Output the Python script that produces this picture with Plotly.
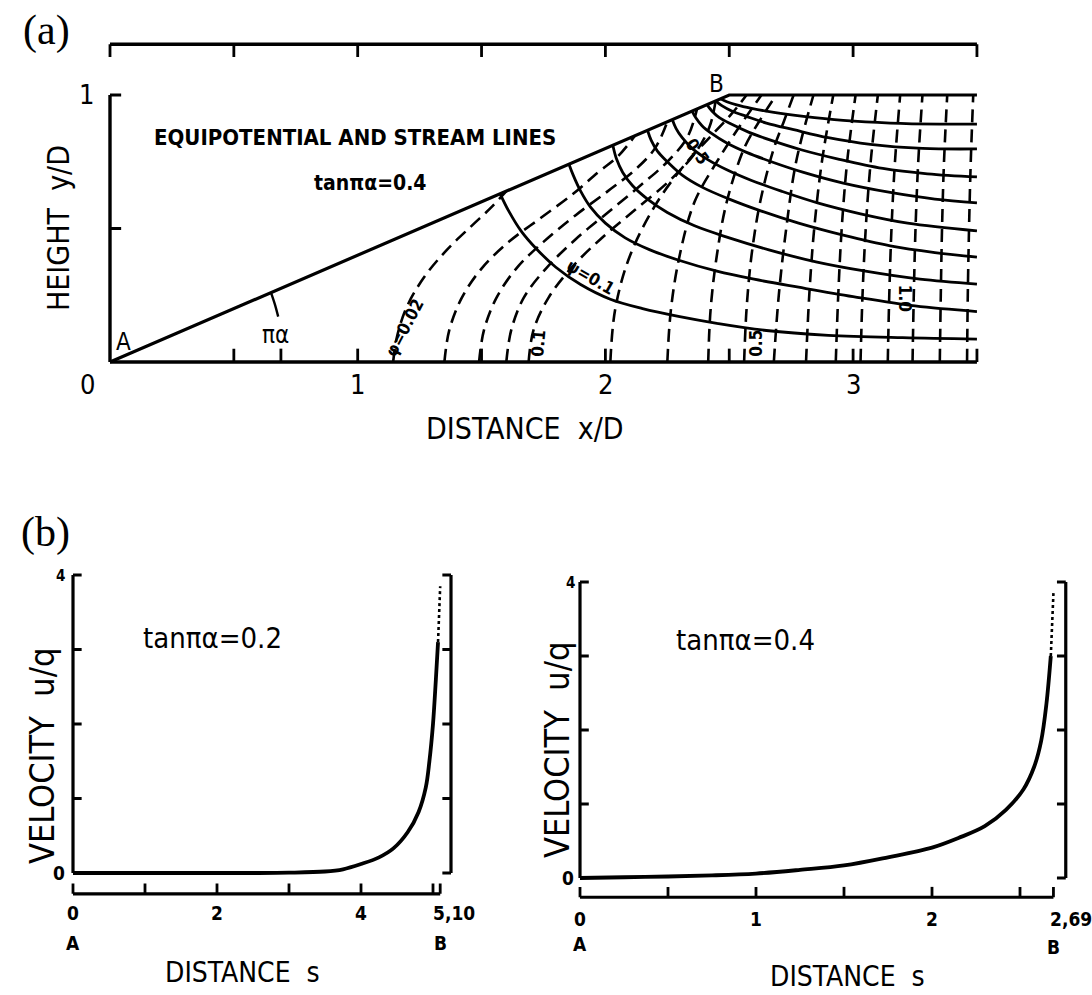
import plotly.graph_objects as go

W, H = 1092, 995
FONT = '"DejaVu Sans Condensed", "Liberation Sans Narrow", "Roboto Condensed", "DejaVu Sans", sans-serif'
SERIF = '"Liberation Serif", "DejaVu Serif", serif'

# ---------------- Panel (a): boundary, stream lines, equipotential lines ----------------
wall_x = [0.0, 2.5, 3.5]
wall_y = [0.0, 1.0, 1.0]

# angle marker (pi*alpha) near A
arc_x = [0.65, 0.666, 0.679]
arc_y = [0.26, 0.215, 0.17]
arc_tick_x = 0.69

psi_levels = [0.1, 0.2, 0.3, 0.4, 0.5, 0.6, 0.7, 0.8, 0.9]
psi_x = [
    [1.575, 1.61, 1.66, 1.72, 1.80, 1.90, 2.02, 2.15, 2.30, 2.45, 2.65, 2.90, 3.20, 3.50],
    [1.853, 1.87, 1.90, 1.94, 2.00, 2.08, 2.18, 2.30, 2.45, 2.60, 2.78, 3.00, 3.25, 3.50],
    [2.03, 2.045, 2.07, 2.11, 2.17, 2.25, 2.36, 2.50, 2.66, 2.85, 3.05, 3.27, 3.50],
    [2.17, 2.185, 2.21, 2.25, 2.31, 2.39, 2.50, 2.63, 2.78, 2.96, 3.15, 3.33, 3.50],
    [2.27, 2.285, 2.31, 2.35, 2.41, 2.49, 2.59, 2.71, 2.86, 3.03, 3.22, 3.50],
    [2.35, 2.365, 2.39, 2.43, 2.49, 2.57, 2.67, 2.80, 2.96, 3.15, 3.33, 3.50],
    [2.41, 2.43, 2.46, 2.51, 2.58, 2.67, 2.79, 2.94, 3.12, 3.30, 3.50],
    [2.445, 2.47, 2.51, 2.57, 2.65, 2.76, 2.90, 3.07, 3.28, 3.50],
    [2.465, 2.49, 2.53, 2.59, 2.68, 2.80, 2.96, 3.15, 3.35, 3.50],
]
psi_y = [
    [0.630, 0.565, 0.49, 0.425, 0.355, 0.29, 0.235, 0.20, 0.17, 0.145, 0.118, 0.100, 0.091, 0.086],
    [0.741, 0.70, 0.64, 0.58, 0.52, 0.465, 0.42, 0.38, 0.34, 0.31, 0.28, 0.245, 0.21, 0.189],
    [0.812, 0.76, 0.71, 0.66, 0.61, 0.56, 0.51, 0.465, 0.42, 0.375, 0.34, 0.31, 0.292],
    [0.868, 0.83, 0.79, 0.75, 0.70, 0.655, 0.61, 0.565, 0.52, 0.475, 0.435, 0.41, 0.393],
    [0.908, 0.875, 0.84, 0.80, 0.76, 0.72, 0.68, 0.64, 0.595, 0.555, 0.52, 0.491],
    [0.94, 0.915, 0.885, 0.855, 0.82, 0.785, 0.75, 0.71, 0.67, 0.635, 0.61, 0.596],
    [0.964, 0.94, 0.915, 0.89, 0.86, 0.83, 0.795, 0.76, 0.725, 0.705, 0.693],
    [0.978, 0.96, 0.94, 0.92, 0.895, 0.87, 0.84, 0.815, 0.80, 0.798],
    [0.986, 0.975, 0.963, 0.95, 0.935, 0.92, 0.905, 0.895, 0.891, 0.891],
]

phi_levels = [0.02, 0.04, 0.06, 0.08, 0.1, 0.2, 0.3, 0.4, 0.5, 0.6, 0.7, 0.8, 0.9, 1.0, 1.1, 1.2, 1.3]
phi_x = [
    [1.143, 1.16, 1.20, 1.27, 1.36, 1.46, 1.54, 1.60],
    [1.35, 1.37, 1.42, 1.50, 1.61, 1.74, 1.87, 1.97, 2.05, 2.12],
    [1.49, 1.51, 1.56, 1.64, 1.75, 1.88, 2.01, 2.12, 2.20, 2.25],
    [1.60, 1.62, 1.67, 1.76, 1.88, 2.01, 2.14, 2.25, 2.33, 2.37],
    [1.69, 1.71, 1.77, 1.86, 1.98, 2.12, 2.26, 2.36, 2.42, 2.445],
    [2.02, 2.04, 2.10, 2.21, 2.33, 2.43, 2.51, 2.57],
    [2.25, 2.265, 2.30, 2.36, 2.45, 2.54, 2.63],
    [2.415, 2.425, 2.45, 2.49, 2.56, 2.62, 2.69],
    [2.56, 2.57, 2.59, 2.625, 2.68, 2.72, 2.76],
    [2.68, 2.70, 2.73, 2.77, 2.84],
    [2.81, 2.823, 2.843, 2.874, 2.92],
    [2.93, 2.94, 2.954, 2.976, 3.01],
    [3.03, 3.038, 3.051, 3.071, 3.10],
    [3.14, 3.146, 3.155, 3.169, 3.19],
    [3.24, 3.245, 3.252, 3.263, 3.28],
    [3.35, 3.354, 3.359, 3.367, 3.38],
    [3.46, 3.463, 3.468, 3.475, 3.485],
]
phi_y = [
    [0.0, 0.10, 0.21, 0.32, 0.42, 0.51, 0.58, 0.64],
    [0.0, 0.12, 0.24, 0.35, 0.45, 0.54, 0.63, 0.71, 0.77, 0.848],
    [0.0, 0.12, 0.24, 0.35, 0.45, 0.55, 0.64, 0.72, 0.80, 0.90],
    [0.0, 0.12, 0.24, 0.35, 0.46, 0.56, 0.66, 0.75, 0.84, 0.948],
    [0.0, 0.12, 0.24, 0.35, 0.46, 0.57, 0.68, 0.78, 0.88, 0.978],
    [0.0, 0.20, 0.40, 0.60, 0.75, 0.85, 0.93, 1.0],
    [0.0, 0.20, 0.40, 0.60, 0.75, 0.88, 1.0],
    [0.0, 0.20, 0.40, 0.60, 0.80, 0.90, 1.0],
    [0.0, 0.20, 0.40, 0.60, 0.80, 0.90, 1.0],
    [0.0, 0.25, 0.50, 0.75, 1.0],
    [0.0, 0.25, 0.50, 0.75, 1.0],
    [0.0, 0.25, 0.50, 0.75, 1.0],
    [0.0, 0.25, 0.50, 0.75, 1.0],
    [0.0, 0.25, 0.50, 0.75, 1.0],
    [0.0, 0.25, 0.50, 0.75, 1.0],
    [0.0, 0.25, 0.50, 0.75, 1.0],
    [0.0, 0.25, 0.50, 0.75, 1.0],
]

a_bottom_ticks = [0.5, 1.0, 1.5, 2.0, 2.5, 3.0, 3.5]
a_top_ticks = [0.0, 0.5, 1.0, 1.5, 2.0, 2.5, 3.0, 3.5]
a_left_ticks = [0.5, 1.0]
a_xlabels = ["0", "1", "2", "3"]
a_xlabel_vals = [0, 1, 2, 3]
a_top_level = 1.19

# ---------------- Panel (b): velocity along surface ----------------
s_02 = [0.0, 0.5, 1.0, 1.5, 2.0, 2.5, 3.0, 3.5, 3.75, 4.0, 4.25, 4.45, 4.65, 4.8, 4.9, 4.95, 5.0, 5.04, 5.07]
u_02 = [0.0, 0.0, 0.0, 0.0, 0.0, 0.0, 0.004, 0.02, 0.05, 0.12, 0.21, 0.33, 0.55, 0.82, 1.15, 1.5, 2.0, 2.6, 3.1]
s_02_dot = [5.07, 5.09, 5.10]
u_02_dot = [3.1, 3.5, 3.85]

s_04 = [0.0, 0.25, 0.5, 0.75, 1.0, 1.25, 1.5, 1.75, 2.0, 2.15, 2.3, 2.42, 2.52, 2.58, 2.62, 2.65, 2.675]
u_04 = [0.0, 0.01, 0.02, 0.035, 0.06, 0.11, 0.17, 0.28, 0.41, 0.54, 0.70, 0.92, 1.20, 1.50, 1.85, 2.35, 3.0]
s_04_dot = [2.675, 2.685, 2.69]
u_04_dot = [3.0, 3.5, 3.85]

b1_xticks = [0, 1, 2, 3, 4, 5, 5.10]
b1_xlabels = {0: "0", 2: "2", 4: "4", 5.10: "5,10"}
b2_xticks = [0, 0.5, 1.0, 1.5, 2.0, 2.5, 2.69]
b2_xlabels = {0: "0", 1.0: "1", 2.0: "2", 2.69: "2,69"}
b_yticks = [0, 1, 2, 3, 4]

# ---------------- layout helpers (pixel anchors) ----------------
def xdom(p0, k, r):
    return [(p0 + r[0] * k) / W, (p0 + r[1] * k) / W]

def ydom(p0, k, r):
    return [1 - (p0 - r[0] * k) / H, 1 - (p0 - r[1] * k) / H]

ax_a_x = dict(p0=110, k=247.7, r=[-0.12, 3.62])
ax_a_y = dict(p0=362, k=267.0, r=[-0.12, 1.26])
ax_b1_x = dict(p0=73, k=72.0, r=[-0.3, 5.5])
ax_b1_y = dict(p0=873, k=74.5, r=[-0.5, 4.2])
ax_b2_x = dict(p0=580, k=176.0, r=[-0.1, 2.86])
ax_b2_y = dict(p0=878, k=74.0, r=[-0.5, 4.2])

fig = go.Figure()
LW = 3.0

def line(xs, ys, ax, width=LW, dash="solid", shape="linear"):
    fig.add_trace(go.Scatter(x=xs, y=ys, mode="lines", xaxis=ax[0], yaxis=ax[1],
                             line=dict(color="black", width=width, dash=dash, shape=shape),
                             hoverinfo="skip", showlegend=False))

def segs(pairs, ax, width=LW):
    xs, ys = [], []
    for (x0, y0, x1, y1) in pairs:
        xs += [x0, x1, None]
        ys += [y0, y1, None]
    line(xs, ys, ax, width)

A = ("x", "y")
B1 = ("x2", "y2")
B2 = ("x3", "y3")

# ---- panel (a) drawing ----
for xs, ys in zip(phi_x, phi_y):
    line(xs, ys, A, width=2.6, dash="13px,7px", shape="spline")
for xs, ys in zip(psi_x, psi_y):
    line(xs, ys, A, width=2.8, shape="spline")
line(wall_x, wall_y, A, width=3.2)
line(arc_x, arc_y, A, width=2.4, shape="spline")
# axes of (a)
line([0, 3.5], [0, 0], A, width=3.4)
line([0, 0], [0, 1], A, width=3.4)
line([0, 3.5], [a_top_level, a_top_level], A, width=3.4)
segs([(v, 0, v, 0.05) for v in a_bottom_ticks + [arc_tick_x]], A, width=2.8)
segs([(v, a_top_level, v, a_top_level - 0.048) for v in a_top_ticks], A, width=2.8)
segs([(0, v, 0.045, v) for v in a_left_ticks], A, width=2.8)

# ---- panel (b) drawing ----
def panel_b(ax, s, u, sd, ud, xticks, x_end, right_x, axis_u, ttx, tty):
    line([0, 0], [0, 4], ax, width=3.2)
    segs([(0, v, ttx, v) for v in b_yticks[1:]], ax, width=2.8)
    line([right_x, right_x], [0, 4], ax, width=3.2)
    segs([(right_x, v, right_x - ttx, v) for v in b_yticks], ax, width=2.8)
    line([0, x_end], [axis_u, axis_u], ax, width=3.2)
    segs([(v, axis_u, v, axis_u + tty) for v in xticks], ax, width=2.8)
    line(s, u, ax, width=3.8, shape="spline")
    line(sd, ud, ax, width=2.6, dash="dot")

panel_b(B1, s_02, u_02, s_02_dot, u_02_dot, b1_xticks, 5.10, 5.25, -0.28, 0.12, 0.14)
panel_b(B2, s_04, u_04, s_04_dot, u_04_dot, b2_xticks, 2.69, 2.76, -0.26, 0.05, 0.14)

# ---------------- annotations ----------------
ann = []

def txt(x, y, t, size, ax=None, angle=0, xshift=0, yshift=0, family=FONT, weight=700):
    d = dict(x=x, y=y, text=t, showarrow=False, textangle=angle, xshift=xshift, yshift=yshift,
             font=dict(family=family, size=size, color="black", weight=weight),
             xanchor="center", yanchor="middle")
    if ax is None:
        d.update(xref="paper", yref="paper")
    else:
        d.update(xref=ax[0], yref=ax[1])
    ann.append(d)

def ptxt(px, py, t, size, angle=0, family=FONT, weight=700):
    txt(px / W, 1 - py / H, t, size, angle=angle, family=family, weight=weight)

ptxt(46, 30, "(a)", 42, family=SERIF, weight=400)
ptxt(45, 532, "(b)", 42, family=SERIF, weight=400)

# panel (a) texts
ptxt(58, 228, "HEIGHT  y/D", 30, angle=-90, weight=400)
ptxt(525, 428, "DISTANCE  x/D", 30, weight=400)
txt(0.99, 0.84, "EQUIPOTENTIAL AND STREAM LINES", 22, A)
txt(1.05, 0.67, "tanπα=0.4", 21, A)
txt(0.055, 0.075, "A", 24, A, weight=400)
txt(2.45, 1.04, "B", 24, A, weight=400)
txt(0.67, 0.10, "πα", 24, A, weight=400)
txt(1.19, 0.13, "φ=0.02", 17, A, angle=-62)
txt(1.94, 0.32, "ψ=0.1", 17, A, angle=30)
txt(2.37, 0.79, "0.5", 17, A, angle=55)
txt(1.73, 0.07, "0.1", 17, A, angle=-85)
txt(2.61, 0.07, "0.5", 17, A, angle=-90)
txt(3.21, 0.24, "1.0", 17, A, angle=90)
for v, t in zip(a_xlabel_vals, a_xlabels):
    txt(v, 0, t, 27, A, xshift=(-22 if v == 0 else 0), yshift=-22, weight=400)
txt(0, 1, "1", 27, A, xshift=-23, weight=400)

# panel (b) texts
ptxt(42, 756, "VELOCITY  u/q", 34, angle=-90, weight=400)
ptxt(557, 750, "VELOCITY  u/q", 34, angle=-90, weight=400)
ptxt(212, 638, "tanπα=0.2", 29, weight=400)
ptxt(745, 640, "tanπα=0.4", 29, weight=400)
ptxt(243, 972, "DISTANCE  s", 28, weight=400)
ptxt(847, 976, "DISTANCE  s", 28, weight=400)

for v, t in b1_xlabels.items():
    txt(v, -0.28, t, 19, B1, yshift=-19, xshift=(14 if t == "5,10" else 0))
txt(0, -0.28, "A", 19, B1, yshift=-49)
txt(5.10, -0.28, "B", 19, B1, yshift=-49)
txt(0, 4, "4", 15, B1, xshift=-13, yshift=-1)
txt(0, 0, "0", 19, B1, xshift=-14)

for v, t in b2_xlabels.items():
    txt(v, -0.26, t, 19, B2, yshift=-22, xshift=(18 if t == "2,69" else 0))
txt(0, -0.26, "A", 19, B2, yshift=-47)
txt(2.69, -0.26, "B", 19, B2, yshift=-50)
txt(0, 4, "4", 15, B2, xshift=-10, yshift=-1)
txt(0, 0, "0", 19, B2, xshift=-12)

def axis(dom, rng):
    return dict(domain=dom, range=rng, visible=False, fixedrange=True)

fig.update_layout(
    width=W, height=H, margin=dict(l=0, r=0, t=0, b=0),
    paper_bgcolor="white", plot_bgcolor="white", showlegend=False,
    xaxis=axis(xdom(**ax_a_x), ax_a_x["r"]),
    yaxis=dict(axis(ydom(**ax_a_y), ax_a_y["r"]), anchor="x"),
    xaxis2=dict(axis(xdom(**ax_b1_x), ax_b1_x["r"]), anchor="y2"),
    yaxis2=dict(axis(ydom(**ax_b1_y), ax_b1_y["r"]), anchor="x2"),
    xaxis3=dict(axis(xdom(**ax_b2_x), ax_b2_x["r"]), anchor="y3"),
    yaxis3=dict(axis(ydom(**ax_b2_y), ax_b2_y["r"]), anchor="x3"),
    annotations=ann,
)

fig.write_html("out.html")
